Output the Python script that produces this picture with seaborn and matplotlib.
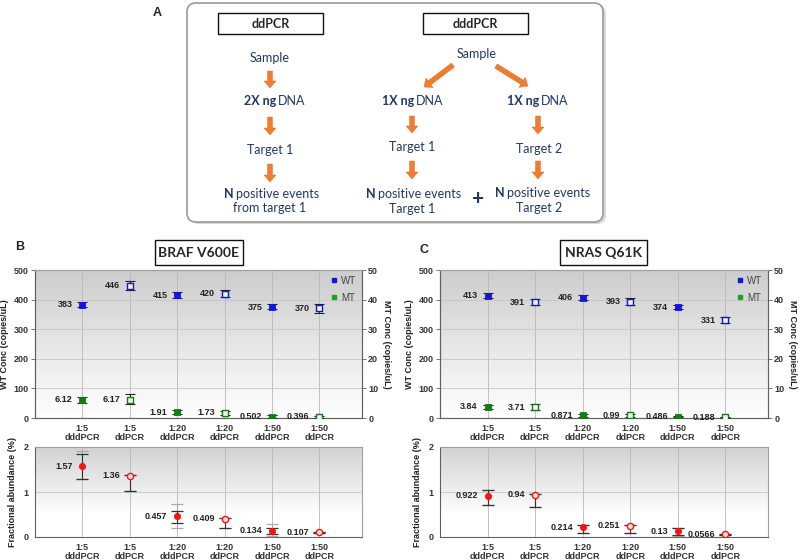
import numpy as np
import pandas as pd
import seaborn as sns
import matplotlib.pyplot as plt
from matplotlib.patches import FancyBboxPatch, FancyArrow, Rectangle
from matplotlib.colors import LinearSegmentedColormap
from matplotlib.lines import Line2D

categories = ["1:5\ndddPCR", "1:5\nddPCR", "1:20\ndddPCR", "1:20\nddPCR", "1:50\ndddPCR", "1:50\nddPCR"]
methods = ["dddPCR", "ddPCR", "dddPCR", "ddPCR", "dddPCR", "ddPCR"]

# BRAF V600E
braf_wt = [383, 446, 415, 420, 375, 370]
braf_wt_lo = [375, 431, 405, 408, 367, 356]
braf_wt_hi = [392, 462, 426, 433, 384, 385]
braf_mt = [6.12, 6.17, 1.91, 1.73, 0.502, 0.396]
braf_mt_lo = [5.1, 4.6, 1.2, 0.9, 0.1, 0.0]
braf_mt_hi = [7.2, 8.0, 2.6, 2.5, 0.9, 0.8]
braf_fa = [1.57, 1.36, 0.457, 0.409, 0.134, 0.107]
braf_fa_lo = [1.29, 1.02, 0.32, 0.20, 0.07, 0.095]
braf_fa_hi = [1.84, 1.37, 0.58, 0.42, 0.20, 0.115]
braf_fa_out_lo = [1.28, 1.02, 0.19, 0.20, 0.03, 0.095]
braf_fa_out_hi = [1.92, 1.37, 0.73, 0.42, 0.30, 0.115]

# NRAS Q61K
nras_wt = [413, 391, 406, 393, 374, 331]
nras_wt_lo = [404, 381, 397, 382, 367, 321]
nras_wt_hi = [422, 401, 417, 405, 381, 341]
nras_mt = [3.84, 3.71, 0.871, 0.99, 0.486, 0.188]
nras_mt_lo = [3.2, 2.8, 0.5, 0.5, 0.2, 0.0]
nras_mt_hi = [4.4, 4.6, 1.2, 1.5, 0.8, 0.4]
nras_fa = [0.922, 0.94, 0.214, 0.251, 0.13, 0.0566]
nras_fa_lo = [0.71, 0.66, 0.10, 0.09, 0.05, 0.045]
nras_fa_hi = [1.05, 0.95, 0.27, 0.26, 0.21, 0.068]
nras_fa_out_lo = [0.71, 0.66, 0.10, 0.09, 0.03, 0.045]
nras_fa_out_hi = [1.05, 0.95, 0.27, 0.26, 0.21, 0.068]

sns.set_style("white")
plt.rcParams["font.family"] = ["Liberation Sans", "DejaVu Sans"]

BLUE = "#1414e0"
GREEN = "#0e7f0e"
RED = "#ff1010"
NAVY = "#1f3864"
ORANGE = "#ee7d31"
FS = 6.5

fig = plt.figure(figsize=(8, 5.6), dpi=100)


def rect(x0, y0, x1, y1):
    return [x0 / 800, 1 - y1 / 560, (x1 - x0) / 800, (y1 - y0) / 560]


def shade(ax, top, stop):
    cmap = LinearSegmentedColormap.from_list("g", [(0, top), (stop, "#ffffff"), (1, "#ffffff")])
    ax.imshow(np.linspace(0, 1, 256)[:, None], extent=(0, 1, 0, 1), transform=ax.transAxes,
              cmap=cmap, aspect="auto", zorder=0, vmin=0, vmax=1)


def style_axis(ax):
    for s in ax.spines.values():
        s.set_color("#a0a0a0")
        s.set_linewidth(0.8)
    ax.spines["left"].set_color("#606060")
    ax.spines["bottom"].set_color("#606060")
    ax.tick_params(axis="both", labelsize=FS, length=3, width=0.6, color="#606060",
                   labelcolor="#333333", pad=1.5)
    for lbl in ax.get_xticklabels() + ax.get_yticklabels():
        lbl.set_fontweight("bold")
        lbl.set_linespacing(1.0)


def labels(ax, x, y, vals):
    for xi, yi, v in zip(x, y, vals):
        ax.annotate(f"{v:g}", (xi, yi), xytext=(-7, 0), textcoords="offset points",
                    ha="right", va="center", fontsize=FS, fontweight="bold", color="#222222", zorder=6)


def points(ax, df, col, color, face, marker, s):
    filled = df[df.method == "dddPCR"]
    hollow = df[df.method == "ddPCR"]
    sns.scatterplot(data=filled, x="pos", y=col, marker=marker, color=color, edgecolor=color,
                    linewidth=0.6, s=s, ax=ax, zorder=5, legend=False)
    sns.scatterplot(data=hollow, x="pos", y=col, marker=marker, color=face, edgecolor=color,
                    linewidth=1.0, s=s, ax=ax, zorder=5, legend=False)


def conc_panel(box, wt, wt_lo, wt_hi, mt, mt_lo, mt_hi):
    df = pd.DataFrame({"pos": np.arange(len(categories)), "method": methods,
                       "wt": wt, "mt": mt})
    ax = fig.add_axes(rect(*box))
    shade(ax, "#cdcdcd", 1.0)
    ax.set_axisbelow(True)
    ax.errorbar(df.pos, df.wt, yerr=[df.wt - np.array(wt_lo), np.array(wt_hi) - df.wt], fmt="none",
                ecolor="#222222", elinewidth=0.8, capsize=3.5, capthick=0.8, zorder=4)
    points(ax, df, "wt", BLUE, "#f0f2ff", "s", 17)
    labels(ax, df.pos, df.wt, wt)
    ax.set_xlim(-1, 5.9)
    ax.set_ylim(0, 500)
    ax.set_yticks(range(0, 501, 100))
    ax.set_xticks(df.pos)
    ax.set_xticklabels(categories)
    ax.grid(axis="x", color="#b8b8b8", lw=0.6)
    ax.grid(axis="y", color="#c6c6c6", lw=0.6)
    ax.set_xlabel("")
    ax.set_ylabel("WT Conc (copies/uL)", fontsize=FS, fontweight="bold", color="#222222", labelpad=3)

    ax2 = ax.twinx()
    ax2.errorbar(df.pos, df.mt, yerr=[df.mt - np.array(mt_lo), np.array(mt_hi) - df.mt], fmt="none",
                 ecolor="#222222", elinewidth=0.8, capsize=3.5, capthick=0.8, zorder=4)
    points(ax2, df, "mt", GREEN, "#f0fff0", "s", 17)
    labels(ax2, df.pos, df.mt, mt)
    ax2.set_ylim(0, 50)
    ax2.set_xlim(-1, 5.9)
    ax2.set_yticks(range(0, 51, 10))
    ax2.grid(False)
    ax2.set_ylabel("MT Conc (copies/uL)", fontsize=FS, fontweight="bold", color="#222222",
                   rotation=270, labelpad=9)
    handles = [Line2D([], [], marker="s", ls="", color=BLUE, markersize=3.5, label="WT"),
               Line2D([], [], marker="s", ls="", color="#20a020", markersize=3.5, label="MT")]
    leg = ax2.legend(handles=handles, loc="upper right", fontsize=7, frameon=False,
                     handletextpad=0.2, labelspacing=0.7, borderaxespad=0.2, handlelength=1.0)
    for t in leg.get_texts():
        t.set_color("#444444")
    style_axis(ax)
    style_axis(ax2)
    ax2.spines["right"].set_color("#606060")


def frac_panel(box, fa, lo, hi, out_lo, out_hi):
    df = pd.DataFrame({"pos": np.arange(len(categories)), "method": methods, "fa": fa})
    ax = fig.add_axes(rect(*box))
    shade(ax, "#d2d2d2", 0.75)
    ax.set_axisbelow(True)
    ax.errorbar(df.pos, df.fa, yerr=[df.fa - np.array(out_lo), np.array(out_hi) - df.fa], fmt="none",
                ecolor="#a8a8a8", elinewidth=0.8, capsize=4, capthick=0.9, zorder=3)
    ax.errorbar(df.pos, df.fa, yerr=[df.fa - np.array(lo), np.array(hi) - df.fa], fmt="none",
                ecolor="#333333", elinewidth=0.8, capsize=4, capthick=0.9, zorder=4)
    points(ax, df, "fa", RED, "#ffe0e0", "o", 20)
    labels(ax, df.pos, df.fa, fa)
    ax.set_xlim(-1, 5.9)
    ax.set_ylim(0, 2)
    ax.set_yticks([0, 1, 2])
    ax.set_xticks(df.pos)
    ax.set_xticklabels(categories)
    ax.grid(axis="x", color="#b8b8b8", lw=0.6)
    ax.grid(axis="y", color="#c6c6c6", lw=0.6)
    ax.set_xlabel("")
    ax.set_ylabel("Fractional abundance (%)", fontsize=FS, fontweight="bold", color="#222222", labelpad=5)
    style_axis(ax)


# overlay for panel A, panel letters and gene boxes
ov = fig.add_axes([0, 0, 1, 1])
ov.set_xlim(0, 800)
ov.set_ylim(560, 0)
ov.axis("off")

ov.add_patch(FancyBboxPatch((190, 5), 416, 219, boxstyle="round,pad=0,rounding_size=9",
                            fc="#d8d8d8", ec="none", zorder=1))
ov.add_patch(FancyBboxPatch((187, 3), 416, 219, boxstyle="round,pad=0,rounding_size=9",
                            fc="white", ec="#9a9a9a", lw=1.2, zorder=2))
ov.text(157, 13, "A", fontsize=9, fontweight="bold", ha="center", va="center")
ov.text(20, 247, "B", fontsize=9, fontweight="bold", ha="center", va="center")
ov.text(424, 250, "C", fontsize=9, fontweight="bold", ha="center", va="center")

fa_font = ["Lato", "DejaVu Sans"]
AFS = 9
for x0, x1, lab in [(218, 323, "ddPCR"), (423, 528, "dddPCR")]:
    ov.add_patch(Rectangle((x0, 13), x1 - x0, 21, fc="white", ec="#111111", lw=1.0, zorder=3))
    ov.text((x0 + x1) / 2, 24, lab, family=fa_font, fontsize=AFS, fontweight="bold",
            ha="center", va="center", zorder=4)


def txt(x, y, s, **kw):
    ov.text(x, y, s, family=fa_font, fontsize=AFS, color=NAVY, ha="center", va="center", zorder=4, **kw)


def split(xs, y, bold, rest):
    ov.text(xs, y, bold, family=fa_font, fontsize=AFS, color=NAVY, fontweight="bold",
            ha="right", va="center", zorder=4)
    ov.text(xs + 2, y, rest, family=fa_font, fontsize=AFS, color=NAVY, ha="left", va="center", zorder=4)


def arrow(x0, y0, x1, y1):
    ov.add_patch(FancyArrow(x0, y0, x1 - x0, y1 - y0, width=5, head_width=12, head_length=7,
                            length_includes_head=True, fc=ORANGE, ec="#e06a20", lw=0.3, zorder=4))


txt(270, 58, "Sample")
txt(477, 54, "Sample")
split(276, 101, "2X ng", "DNA")
split(414, 101, "1X ng", "DNA")
split(539, 101, "1X ng", "DNA")
txt(270, 150, "Target 1")
txt(412, 147, "Target 1")
txt(539, 149, "Target 2")
split(234, 194, "N", "positive events")
split(376, 194, "N", "positive events")
split(505, 193, "N", "positive events")
txt(270, 208, "from target 1")
txt(412, 209, "Target 1")
txt(539, 208, "Target 2")
ov.text(478, 199, "+", family=fa_font, fontsize=15, fontweight="bold", color=NAVY,
        ha="center", va="center", zorder=4)

for x, y0, y1 in [(270, 71, 88), (270, 117, 135), (270, 164, 182),
                  (412, 116, 133), (412, 161, 179), (538, 116, 134), (538, 161, 179)]:
    arrow(x, y0, x, y1)
arrow(453, 65, 424, 87)
arrow(496, 66, 528, 86)

for x0, x1, lab in [(155, 243, "BRAF V600E"), (560, 647, "NRAS Q61K")]:
    ov.add_patch(Rectangle((x0, 240), x1 - x0, 25, fc="white", ec="#111111", lw=1.0, zorder=3))
    ov.text((x0 + x1) / 2, 253, lab, family=fa_font, fontsize=10, fontweight="bold",
            ha="center", va="center", zorder=4)

conc_panel((35, 270, 362, 418), braf_wt, braf_wt_lo, braf_wt_hi, braf_mt, braf_mt_lo, braf_mt_hi)
frac_panel((35, 447, 362, 537), braf_fa, braf_fa_lo, braf_fa_hi, braf_fa_out_lo, braf_fa_out_hi)
conc_panel((440, 270, 768, 418), nras_wt, nras_wt_lo, nras_wt_hi, nras_mt, nras_mt_lo, nras_mt_hi)
frac_panel((440, 447, 768, 537), nras_fa, nras_fa_lo, nras_fa_hi, nras_fa_out_lo, nras_fa_out_hi)

fig.savefig("out.png", dpi=100)
